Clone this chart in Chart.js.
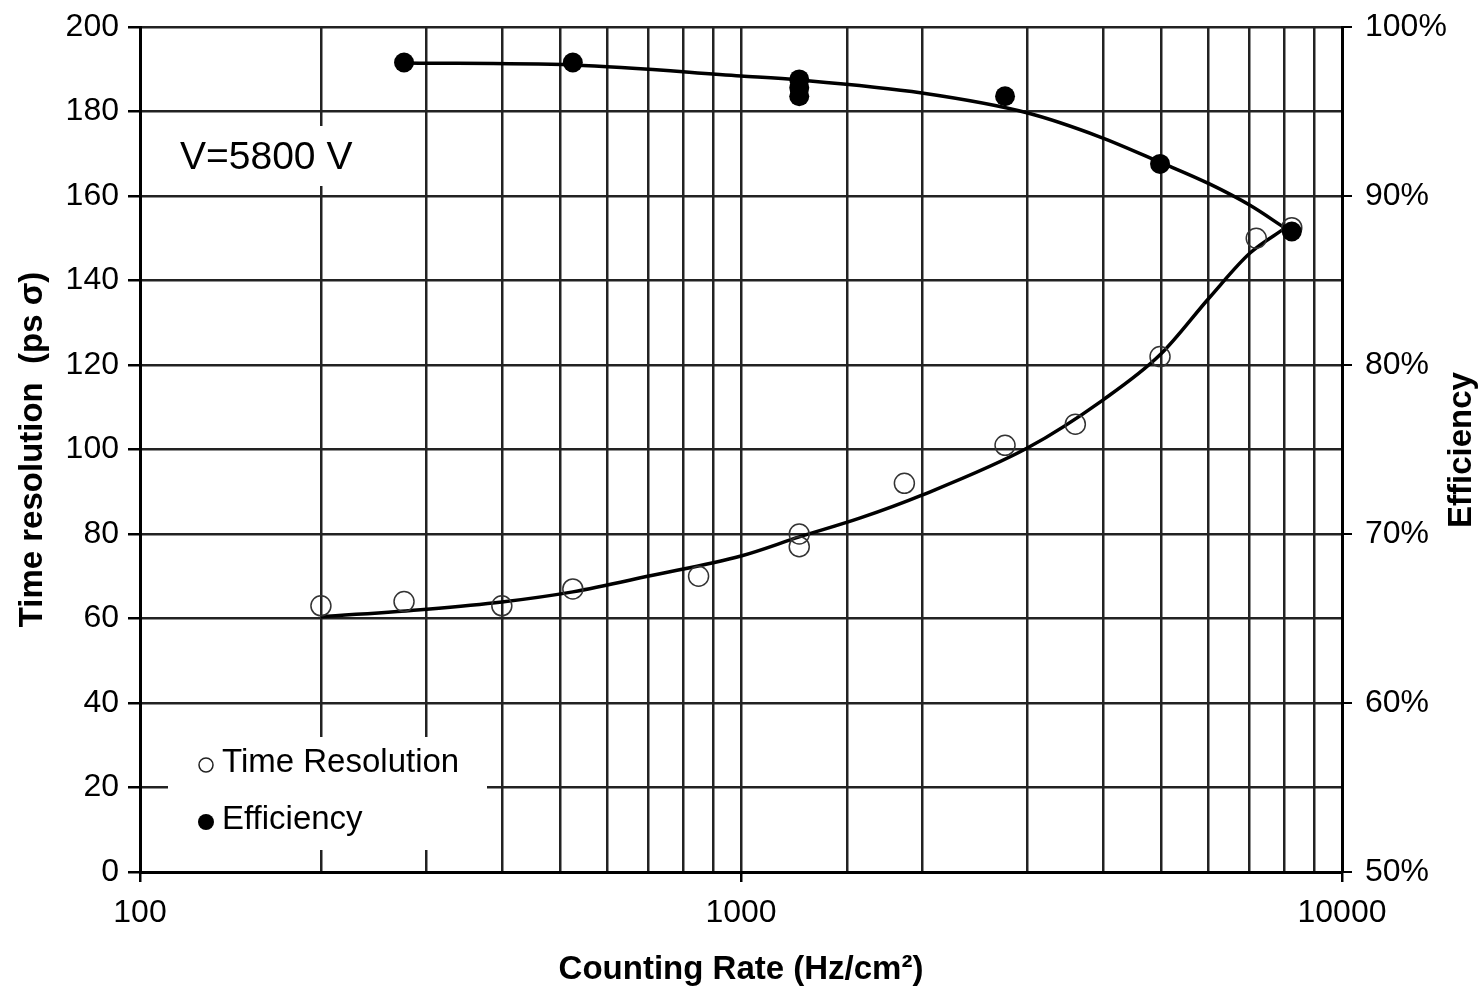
<!DOCTYPE html>
<html>
<head>
<meta charset="utf-8">
<script src="https://cdn.jsdelivr.net/npm/chart.js@4.4.1/dist/chart.umd.min.js"></script>
<style>
  html, body { margin: 0; padding: 0; background: #fff; }
  canvas { display: block; }
</style>
</head>
<body>
<canvas id="rateChart" width="1483" height="991"></canvas>
<script>
const rateTime = [200, 275, 400, 525, 850, 1250, 1250, 1870, 2750, 3600, 4980, 7200, 8250];
const timeRes = [63, 64, 63, 67, 70, 80, 77, 92, 101, 106, 122, 150, 152.5];

const rateEff = [275, 525, 1250, 1250, 1250, 2750, 4980, 8250];
const effPct = [97.9, 97.9, 96.9, 96.4, 95.9, 95.9, 91.9, 87.9];

// hand-drawn fit curves, sampled along the drawn line
const fitRateTime = [200, 300, 400, 525, 706, 1000, 1250, 1580, 2000, 3000, 4000, 4980, 6030, 7030, 8040];
const fitTime = [60.4, 62.2, 63.9, 66.3, 70.1, 74.8, 79.3, 83.8, 89.2, 100.4, 111.7, 122.4, 136.1, 146.5, 152.4];

const fitRateEff = [275, 525, 1000, 1250, 2000, 3000, 3960, 4980, 6030, 7030, 8040];
const fitEff = [97.87, 97.75, 97.1, 96.86, 96.09, 94.91, 93.49, 92.0, 90.7, 89.45, 88.1];

const xTickLabels = [100, 1000, 10000];
const legendLabels = ['Time Resolution', 'Efficiency'];
const voltageLabel = 'V=5800 V';

const pairs = (xs, ys) => xs.map((x, i) => ({ x: x, y: ys[i] }));

const FONT = "'Liberation Sans', Arial, Helvetica, sans-serif";
const GRID = '#222';

// fixed axis box sizes so the plot area lands where the original one is
const fixWidth = (w) => (scale) => {
  scale.width = w;
  scale.paddingTop = 0;
  scale.paddingBottom = 0;
};

// white boxes behind the in-plot texts, plus the legend and the right title
const annotations = {
  id: 'annotations',
  beforeDatasetsDraw(chart) {
    const ctx = chart.ctx;
    ctx.save();
    ctx.fillStyle = '#fff';
    ctx.fillRect(162, 126, 215, 60);
    ctx.fillRect(168, 737, 319, 113);

    ctx.fillStyle = '#000';
    ctx.font = '39px ' + FONT;
    ctx.textBaseline = 'middle';
    ctx.textAlign = 'left';
    ctx.fillText(voltageLabel, 180, 158);

    // legend markers
    ctx.lineWidth = 1.5;
    ctx.strokeStyle = '#222';
    ctx.beginPath();
    ctx.arc(206, 765, 7, 0, Math.PI * 2);
    ctx.stroke();
    ctx.fillStyle = '#000';
    ctx.beginPath();
    ctx.arc(206, 822, 8, 0, Math.PI * 2);
    ctx.fill();

    ctx.font = '33px ' + FONT;
    ctx.fillText(legendLabels[0], 222, 763);
    ctx.fillText(legendLabels[1], 222, 820);
    ctx.restore();
  },
  afterDraw(chart) {
    const ctx = chart.ctx;
    ctx.save();
    ctx.translate(1462, 450);
    ctx.rotate(-Math.PI / 2);
    ctx.font = 'bold 33px ' + FONT;
    ctx.fillStyle = '#000';
    ctx.textAlign = 'center';
    ctx.textBaseline = 'middle';
    ctx.fillText('Efficiency', 0, 0);
    ctx.restore();
  }
};

const ctx = document.getElementById('rateChart').getContext('2d');
new Chart(ctx, {
  type: 'scatter',
  data: {
    datasets: [
      {
        label: 'Efficiency',
        data: pairs(rateEff, effPct),
        yAxisID: 'y1',
        showLine: false,
        pointRadius: 10,
        pointBackgroundColor: '#000',
        pointBorderColor: '#000',
        pointBorderWidth: 0
      },
      {
        label: 'Time Resolution',
        data: pairs(rateTime, timeRes),
        yAxisID: 'y',
        showLine: false,
        pointRadius: 10,
        pointBackgroundColor: 'rgba(255,255,255,0)',
        pointBorderColor: '#333',
        pointBorderWidth: 1.5
      },
      {
        label: 'Efficiency fit',
        data: pairs(fitRateEff, fitEff),
        yAxisID: 'y1',
        showLine: true,
        pointRadius: 0,
        borderColor: '#000',
        borderWidth: 3.5,
        cubicInterpolationMode: 'monotone'
      },
      {
        label: 'Time fit',
        data: pairs(fitRateTime, fitTime),
        yAxisID: 'y',
        showLine: true,
        pointRadius: 0,
        borderColor: '#000',
        borderWidth: 3.5,
        cubicInterpolationMode: 'monotone'
      }
    ]
  },
  options: {
    responsive: false,
    animation: false,
    layout: { padding: { top: 27, left: 0, right: 0, bottom: 0 } },
    plugins: {
      legend: { display: false },
      tooltip: { enabled: false }
    },
    scales: {
      x: {
        type: 'logarithmic',
        min: 100,
        max: 10000,
        afterFit: (scale) => { scale.height = 119; },
        border: { color: '#000', width: 3 },
        grid: {
          color: GRID,
          lineWidth: 2.5,
          tickLength: 10,
          tickColor: (c) => (c.tick && xTickLabels.includes(c.tick.value)) ? '#000' : 'rgba(0,0,0,0)'
        },
        ticks: {
          autoSkip: false,
          maxRotation: 0,
          padding: 12,
          color: '#000',
          font: { family: FONT, size: 32 },
          callback: (v) => xTickLabels.includes(v) ? String(v) : ''
        },
        title: {
          display: true,
          text: 'Counting Rate (Hz/cm²)',
          color: '#000',
          font: { family: FONT, size: 33, weight: 'bold' },
          padding: { top: 0, bottom: 1 }
        }
      },
      y: {
        position: 'left',
        min: 0,
        max: 200,
        afterFit: fixWidth(140),
        border: { color: '#000', width: 3 },
        grid: { color: GRID, lineWidth: 2.5, tickLength: 12, tickColor: '#000' },
        ticks: {
          stepSize: 20,
          padding: 9,
          color: '#000',
          font: { family: FONT, size: 32 }
        },
        title: {
          display: true,
          text: 'Time resolution  (ps σ)',
          color: '#000',
          font: { family: FONT, size: 33, weight: 'bold' },
          padding: { top: 13, bottom: 0 }
        }
      },
      y1: {
        position: 'right',
        min: 50,
        max: 100,
        afterFit: fixWidth(141),
        border: { color: '#000', width: 3 },
        grid: { drawOnChartArea: false, tickLength: 10, tickColor: '#000', lineWidth: 2 },
        ticks: {
          stepSize: 10,
          padding: 13,
          color: '#000',
          font: { family: FONT, size: 32 },
          callback: (v) => v + '%'
        }
      }
    }
  },
  plugins: [annotations]
});
</script>
</body>
</html>
